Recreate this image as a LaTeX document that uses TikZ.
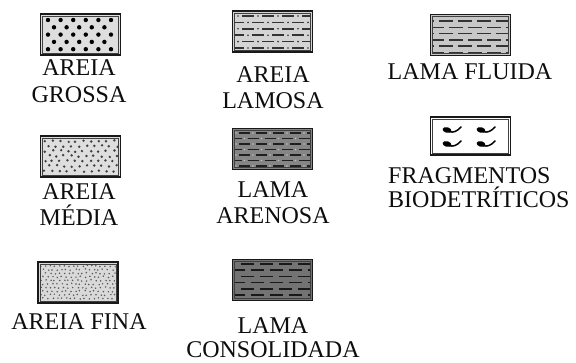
\documentclass[tikz,border=0pt]{standalone}
\usepackage{fontspec}
\setmainfont{Liberation Serif}
\usetikzlibrary{calc}
\begin{document}
\begin{tikzpicture}[x=1pt,y=-1pt,
  lbl/.style={font=\fontsize{24}{26}\selectfont, text=black!95, inner sep=0pt, anchor=base},
  legbox/.style={draw=black!90, line width=1.4pt, minimum width=80pt, minimum height=41pt, inner sep=0pt, outer sep=0pt},
  innerline/.style={draw=black!75, line width=0.6pt},
  dashln/.style={line width=1.6pt, line cap=butt},
  shell/.pic={
    \fill[rotate=-15] (0,0) ellipse[x radius=4.5pt, y radius=2.8pt];
    \draw[line width=1.5pt, line cap=round] (2,1.5) .. controls (6,3) and (10,1.5) .. (14,-3);
  }
]
\useasboundingbox (0,0) rectangle (576,362);
\pgfmathsetseed{7}

% ---------- boxes ----------
\node[legbox, fill=black!13] (grossa) at (80.5,34.5) {};
\node[legbox, fill=black!13] (media) at (80.5,156.5) {};
\node[legbox, fill=black!15] (fina) at (78,282.5) {};
\node[legbox, fill=black!17] (lamosa) at (272.5,31.5) {};
\node[legbox, fill=black!48] (arenosa) at (272.5,149) {};
\node[legbox, fill=black!55] (consol) at (272.5,280) {};
\node[legbox, fill=black!22] (fluida) at (470.5,35) {};
\node[legbox, fill=white, minimum height=38pt] (frag) at (470.5,136) {};

% ---------- AREIA GROSSA ----------
\begin{scope}
\clip ($(grossa.north west)+(2.5,2.5)$) rectangle ($(grossa.south east)+(-2.5,-2.5)$);
\foreach \r in {0,...,4}{
  \pgfmathsetmacro\yy{20+7.3*\r}
  \ifodd\r
    \foreach \c in {0,...,4} \fill (54+12.6*\c,\yy) circle[radius=2.2pt];
  \else
    \foreach \c in {0,...,5} \fill (48+12.6*\c,\yy) circle[radius=2.2pt];
  \fi
}
\end{scope}

% ---------- AREIA MEDIA ----------
\begin{scope}
\clip ($(media.north west)+(2.5,2.5)$) rectangle ($(media.south east)+(-2.5,-2.5)$);
\foreach \r in {0,...,6}{
  \foreach \c in {0,...,10}{
    \pgfmathsetmacro\xx{45+7.6*\c+3.8*mod(\r,2)+1.3*rand}
    \pgfmathsetmacro\yy{141+5*\r+0.9*rand}
    \fill[black!75] (\xx,\yy) circle[radius=1.35pt];
  }
}
\end{scope}

% ---------- AREIA FINA ----------
\begin{scope}
\clip ($(fina.north west)+(2.5,2.5)$) rectangle ($(fina.south east)+(-2.5,-2.5)$);
\foreach \r in {0,...,9}{
  \foreach \c in {0,...,17}{
    \pgfmathsetmacro\xx{41+4.6*\c+2.3*mod(\r,2)+1*rand}
    \pgfmathsetmacro\yy{266+3.6*\r+0.7*rand}
    \fill[black!65] (\xx,\yy) circle[radius=0.85pt];
  }
}
\end{scope}

% ---------- AREIA LAMOSA ----------
\begin{scope}
\clip ($(lamosa.north west)+(2.5,2.5)$) rectangle ($(lamosa.south east)+(-2.5,-2.5)$);
\foreach \r in {0,...,5}{
  \pgfmathsetmacro\yy{16+6.4*\r}
  \pgfmathsetmacro\off{mod(\r,2)*10}
  \foreach \c in {0,...,5}{
    \pgfmathsetmacro\xa{222+\off+20*\c}
    \draw[dashln, black!80] (\xa,\yy) -- ++(12,0);
    \fill[black!80] (\xa+16,\yy) circle[radius=0.9pt];
  }
}
\end{scope}

% ---------- LAMA ARENOSA ----------
\begin{scope}
\clip ($(arenosa.north west)+(2.5,2.5)$) rectangle ($(arenosa.south east)+(-2.5,-2.5)$);
\foreach \r in {0,...,6}{
  \pgfmathsetmacro\yy{133+5.5*\r}
  \pgfmathsetmacro\off{mod(\r,2)*8.5}
  \foreach \c in {0,...,6}{
    \pgfmathsetmacro\xa{222+\off+17*\c}
    \draw[dashln, black!88, line width=1.8pt] (\xa,\yy) -- ++(11,0);
    \fill[black!25] (\xa+14,\yy) circle[radius=0.9pt];
  }
}
\end{scope}

% ---------- LAMA CONSOLIDADA ----------
\begin{scope}
\clip ($(consol.north west)+(2.5,2.5)$) rectangle ($(consol.south east)+(-2.5,-2.5)$);
\foreach \r in {0,...,5}{
  \pgfmathsetmacro\yy{264+6.2*\r}
  \pgfmathsetmacro\off{mod(\r,2)*9.5}
  \foreach \c in {0,...,5}{
    \pgfmathsetmacro\xa{222+\off+19*\c}
    \draw[dashln, black!90] (\xa,\yy) -- ++(13,0);
  }
}
\end{scope}

% ---------- LAMA FLUIDA ----------
\begin{scope}
\clip ($(fluida.north west)+(2.5,2.5)$) rectangle ($(fluida.south east)+(-2.5,-2.5)$);
\foreach \r in {0,...,5}{
  \pgfmathsetmacro\yy{21+6.3*\r}
  \pgfmathsetmacro\off{mod(\r,2)*9.5}
  \foreach \c in {0,...,5}{
    \pgfmathsetmacro\xa{420+\off+19*\c}
    \draw[dashln, black!80] (\xa,\yy) -- ++(14,0);
  }
}
\end{scope}

% ---------- inner frame lines ----------
\foreach \b in {grossa,media,fina,lamosa,arenosa,consol,fluida,frag}
  \draw[innerline] ($(\b.north west)+(2.2,2.2)$) rectangle ($(\b.south east)+(-2.2,-2.2)$);

% ---------- FRAGMENTOS ----------
\pic at (447,130) {shell};
\pic at (481,130) {shell};
\pic at (447,144) {shell};
\pic at (481,144) {shell};

% ---------- labels ----------
\node[lbl] (t1a) at (79,75) {AREIA};
\node[lbl] (t1b) at (79,102) {GROSSA};
\node[lbl] (t2a) at (79,199) {AREIA};
\node[lbl] (t2b) at (79,225) {MÉDIA};
\node[lbl] (t3) at (79,329) {AREIA FINA};
\node[lbl] (t4a) at (273,82) {AREIA};
\node[lbl] (t4b) at (273,108) {LAMOSA};
\node[lbl] (t5a) at (273,197) {LAMA};
\node[lbl] (t5b) at (273,223) {ARENOSA};
\node[lbl] (t6a) at (273,333) {LAMA};
\node[lbl] (t6b) at (273,357) {CONSOLIDADA};
\node[lbl] (t7) at (470,79) {LAMA FLUIDA};
\node[lbl, anchor=base west] (t8a) at (388,183) {FRAGMENTOS};
\node[lbl, anchor=base west] (t8b) at (388,207) {BIODETRÍTICOS};
\end{tikzpicture}
\end{document}
